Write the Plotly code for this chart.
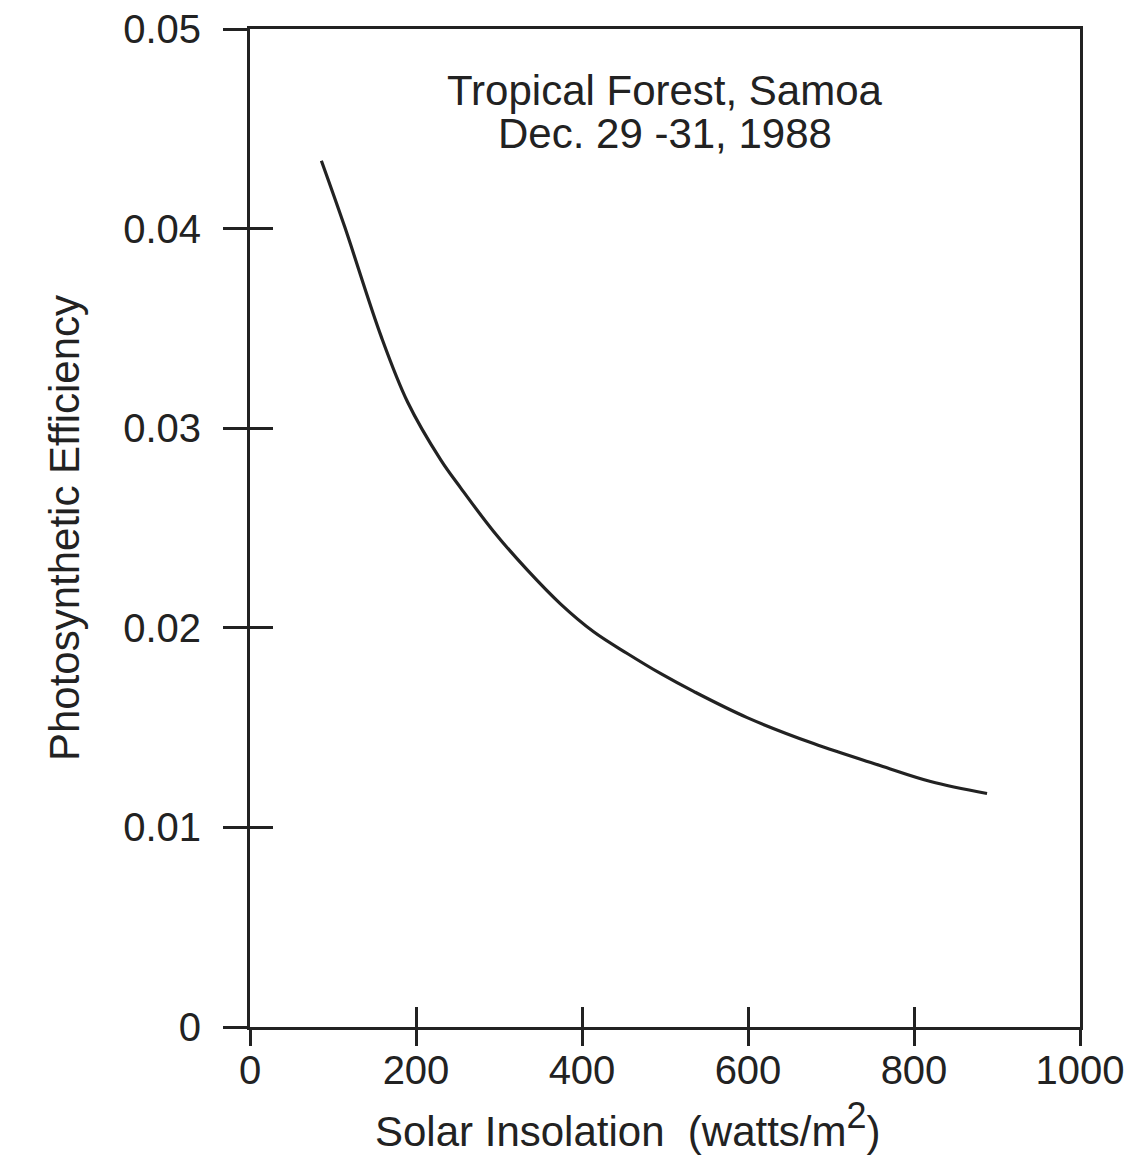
import plotly.graph_objects as go

# Data
insolation = [86, 114, 158, 190, 230, 254, 294, 334, 374, 414, 455, 495, 535,
              599, 679, 759, 820, 888]
efficiency = [0.0434, 0.0401, 0.0346, 0.0313, 0.0284, 0.0270, 0.0248, 0.0229,
              0.0212, 0.0198, 0.0187, 0.0177, 0.0168, 0.0155, 0.0142, 0.0131,
              0.0123, 0.0117]

x_ticks = [0, 200, 400, 600, 800, 1000]
x_tick_text = ["0", "200", "400", "600", "800", "1000"]
y_ticks = [0, 0.01, 0.02, 0.03, 0.04, 0.05]
y_tick_text = ["0", "0.01", "0.02", "0.03", "0.04", "0.05"]
y_inner_ticks = [0.01, 0.02, 0.03, 0.04]
x_inner_ticks = [200, 400, 600, 800]

title_lines = ["Tropical Forest, Samoa", "Dec. 29 -31, 1988"]
title_y = [0.0469, 0.04475]
x_title = "Solar Insolation  (watts/m<sup><span style='font-size:36px'>2</span></sup>)"
y_title = "Photosynthetic Efficiency"

INK = "#222222"
FONT = "Liberation Sans, Arial, sans-serif"

fig = go.Figure()
fig.add_trace(go.Scatter(
    x=insolation, y=efficiency, mode="lines",
    line=dict(color=INK, width=3.2, shape="spline", smoothing=1.0),
    showlegend=False, hoverinfo="skip",
))
# empty trace to activate overlay axes (inner tick marks)
fig.add_trace(go.Scatter(x=[None], y=[None], xaxis="x2", yaxis="y2",
                         showlegend=False, hoverinfo="skip"))

annotations = [
    dict(x=500, y=yy, xref="x", yref="y", xanchor="center", yanchor="middle",
         text=t, showarrow=False, font=dict(size=42, color=INK, family=FONT))
    for t, yy in zip(title_lines, title_y)
]
annotations.append(dict(
    x=0.456, y=-0.098, xref="paper", yref="paper", xanchor="center", yanchor="middle",
    text=x_title, showarrow=False, font=dict(size=42, color=INK, family=FONT),
))

fig.update_layout(
    width=1142, height=1157,
    margin=dict(l=242, r=70, t=21, b=138, autoexpand=False),
    paper_bgcolor="white", plot_bgcolor="white",
    font=dict(family=FONT, color=INK, size=38),
    xaxis=dict(
        range=[0, 1000], tickmode="array", tickvals=x_ticks, ticktext=x_tick_text,
        ticks="outside", ticklen=16, tickwidth=2.5, tickcolor=INK,
        showline=True, linewidth=3, linecolor=INK, mirror=True,
        showgrid=False, zeroline=False, automargin=False,
        tickfont=dict(size=40), ticklabelstandoff=-10,
    ),
    yaxis=dict(
        range=[0, 0.05], tickmode="array", tickvals=y_ticks, ticktext=y_tick_text,
        ticks="outside", ticklen=24, tickwidth=2.5, tickcolor=INK,
        showline=True, linewidth=3, linecolor=INK, mirror=True,
        showgrid=False, zeroline=False, ticklabeloverflow="allow", automargin=False,
        tickfont=dict(size=40), ticklabelstandoff=14,
        title=dict(text=y_title, font=dict(size=42), standoff=31),
    ),
    xaxis2=dict(
        range=[0, 1000], overlaying="x", side="bottom", tickmode="array",
        tickvals=x_inner_ticks, ticks="inside", ticklen=20, tickwidth=2.5, tickcolor=INK,
        showticklabels=False, showline=False, showgrid=False, zeroline=False,
    ),
    yaxis2=dict(
        range=[0, 0.05], overlaying="y", side="left", tickmode="array",
        tickvals=y_inner_ticks, ticks="inside", ticklen=23, tickwidth=2.5, tickcolor=INK,
        showticklabels=False, showline=False, showgrid=False, zeroline=False,
    ),
    annotations=annotations,
)

fig.write_html("out.html")
